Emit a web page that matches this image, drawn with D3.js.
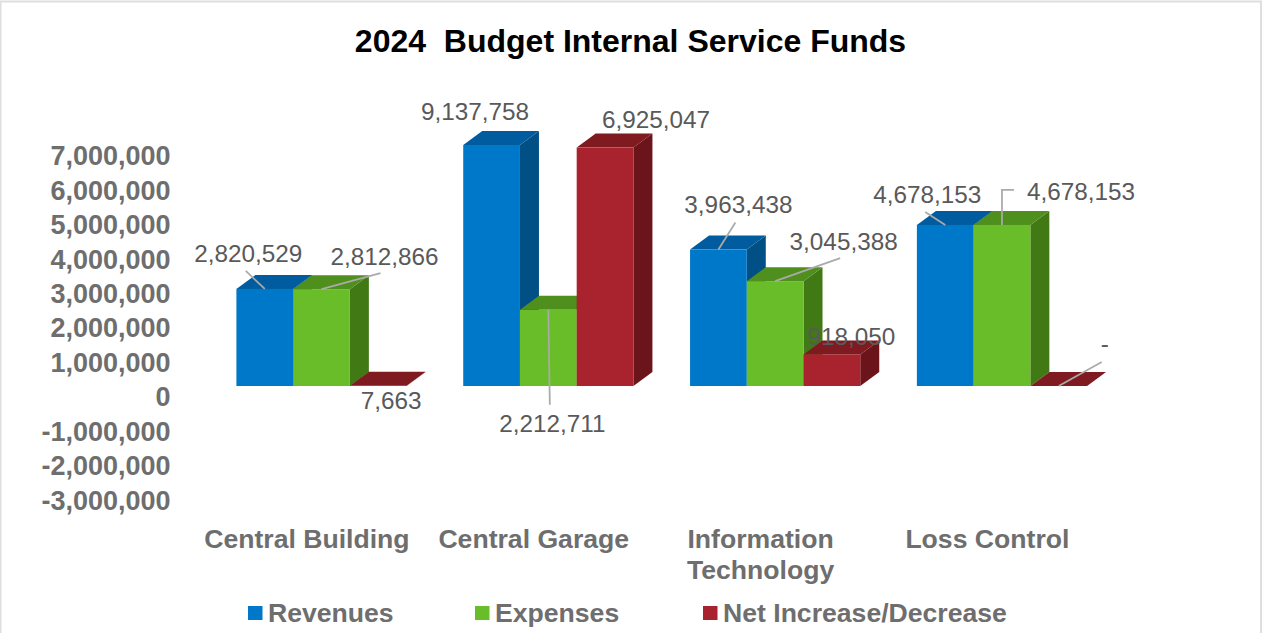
<!DOCTYPE html>
<html>
<head>
<meta charset="utf-8">
<script src="https://cdn.jsdelivr.net/npm/d3@7"></script>
<style>
  html, body { margin: 0; padding: 0; background: #fff; }
  svg { display: block; font-family: "Liberation Sans", Arial, sans-serif; }
</style>
</head>
<body>
<svg id="chart" width="1262" height="633"></svg>
<script>
// Budget figures per fund
const categories = ["Central Building", "Central Garage", "Information Technology", "Loss Control"];
const seriesNames = ["Revenues", "Expenses", "Net Increase/Decrease"];
const revenues = [2820529, 9137758, 3963438, 4678153];
const expenses = [2812866, 2212711, 3045388, 4678153];
const netChange = [7663, 6925047, 918050, 0];
const yTicks = [7000000, 6000000, 5000000, 4000000, 3000000, 2000000, 1000000, 0, -1000000, -2000000, -3000000];

// Face colours: front, top, side
const palette = [
  { front: "#0078c9", top: "#005c9e", side: "#004f85" },
  { front: "#69bd28", top: "#4f8f1e", side: "#417a15" },
  { front: "#a9232e", top: "#7f1a20", side: "#6b151b" }
];

// Extrusion of the 3D columns and the shift it gives the axis labels
const depth = { dx: 19, dy: -14 };
const textGrey = "#6e6e6e";
const valueGrey = "#595959";
const leaderGrey = "#aaaaaa";

const svg = d3.select("#chart");

// Chart frame; its bottom edge runs past the visible area
svg.append("rect").attr("x", 0.5).attr("y", 1.5).attr("width", 1260.5).attr("height", 640)
  .attr("fill", "#fff").attr("stroke", "#dedede").attr("stroke-width", 2);

svg.append("text").attr("x", 630.5).attr("y", 52)
  .attr("text-anchor", "middle").attr("font-size", 32).attr("font-weight", 700).attr("fill", "#000")
  .attr("xml:space", "preserve").style("white-space", "pre")
  .text("2024  Budget Internal Service Funds");

// Scales; columns above the axis maximum are cut off at it
const y = d3.scaleLinear().domain([-3000000, 7000000]).range([489.3, 145]).clamp(true);
const x0 = d3.scaleBand().domain(categories).range([208, 1115.3]);
const x1 = d3.scaleBand().domain(seriesNames).range([28.4, 198.6]);

// Value axis, drawn through d3.axisLeft with its line hidden; negatives use a plain hyphen
const fmt = d3.format(",");
const tickFmt = v => fmt(v).replace("\u2212", "-");
const yAxis = svg.append("g").attr("transform", "translate(170.5,10)")
  .call(d3.axisLeft(y).tickValues(yTicks).tickFormat(tickFmt).tickSize(0).tickPadding(0));
yAxis.select(".domain").remove();
yAxis.selectAll("text")
  .attr("font-family", "Liberation Sans, Arial, sans-serif")
  .attr("font-size", 27).attr("font-weight", 700).attr("fill", textGrey).attr("dy", "0.36em");

// Columns, left to right so each front covers its left neighbour's side
const rows = categories.flatMap((c, i) => [
  { cat: c, s: 0, v: revenues[i] },
  { cat: c, s: 1, v: expenses[i] },
  { cat: c, s: 2, v: netChange[i] }
]);
const barX = d => x0(d.cat) + x1(seriesNames[d.s]);
const w = x1.bandwidth();
const base = y(0);
const poly = pts => pts.map(p => p.join(",")).join(" ");

const bars = svg.append("g").selectAll("g").data(rows).join("g");
bars.append("polygon").attr("fill", d => palette[d.s].side).attr("points", d => {
  const r = barX(d) + w, t = y(d.v);
  return poly([[r, t], [r + depth.dx, t + depth.dy], [r + depth.dx, base + depth.dy], [r, base]]);
});
bars.append("polygon").attr("fill", d => palette[d.s].top).attr("points", d => {
  const l = barX(d), t = y(d.v);
  return poly([[l, t], [l + depth.dx, t + depth.dy], [l + w + depth.dx, t + depth.dy], [l + w, t]]);
});
bars.append("rect").attr("fill", d => palette[d.s].front)
  .attr("x", barX).attr("width", w)
  .attr("y", d => y(d.v)).attr("height", d => base - y(d.v));

// Label placement relative to the centre of each column's top edge:
// label centre, then the bend points of its leader line (empty means none)
const labelLayout = [
  { lx: -16.5, ly: -36, path: [[-19, -18]] },
  { lx: 63, ly: -33, path: [[59, -16]] },
  { lx: 13, ly: 15, path: [] },
  { lx: -16.5, ly: -34, path: [] },
  { lx: 4, ly: 113, path: [[1.5, 95]] },
  { lx: 51, ly: -28, path: [] },
  { lx: 20, ly: -45, path: [[17, -27]] },
  { lx: 68.5, ly: -40, path: [[65, -23]] },
  { lx: 19.5, ly: -18, path: [] },
  { lx: -18, ly: -31, path: [[-20, -13]] },
  { lx: 79, ly: -34, path: [[0, -35], [12, -35]] },
  { lx: 46, ly: -43, path: [[43, -24]] }
];

const layer = svg.append("g");
rows.forEach((d, i) => {
  const ax = barX(d) + w / 2, ay = y(d.v);
  const place = labelLayout[i];
  if (place.path.length) {
    const line = d3.line();
    layer.append("path")
      .attr("d", line([[ax, ay], ...place.path.map(p => [ax + p[0], ay + p[1]])]))
      .attr("fill", "none").attr("stroke", leaderGrey).attr("stroke-width", 1.75);
  }
});
rows.forEach((d, i) => {
  const ax = barX(d) + w / 2, ay = y(d.v);
  const place = labelLayout[i];
  layer.append("text")
    .attr("x", ax + place.lx).attr("y", ay + place.ly).attr("dy", "0.36em")
    .attr("text-anchor", "middle").attr("font-size", 24.3).attr("fill", valueGrey)
    .text(d.v === 0 ? "-" : fmt(d.v));
});

// Category labels, wrapped to two lines where the name is long
const catLines = { "Information Technology": ["Information", "Technology"] };
const cat = svg.append("g").selectAll("text").data(categories).join("text")
  .attr("text-anchor", "middle").attr("font-size", 26.6).attr("font-weight", 700).attr("fill", textGrey)
  .attr("y", 548);
cat.each(function (c) {
  const cx = x0(c) + x0.bandwidth() / 2 - 14.5;
  (catLines[c] || [c]).forEach((t, k) => {
    d3.select(this).append("tspan").attr("x", cx).attr("dy", k ? 31 : 0).text(t);
  });
});

// Legend
const legendX = d3.scaleOrdinal().domain(seriesNames).range([248, 475, 703]);
const legend = svg.append("g").selectAll("g").data(seriesNames).join("g")
  .attr("transform", d => `translate(${legendX(d)},606)`);
legend.append("rect").attr("width", 14.5).attr("height", 14).attr("fill", (d, i) => palette[i].front);
legend.append("text").attr("x", 20).attr("y", 16)
  .attr("font-size", 26.6).attr("font-weight", 700).attr("fill", textGrey).text(d => d);
</script>
</body>
</html>
